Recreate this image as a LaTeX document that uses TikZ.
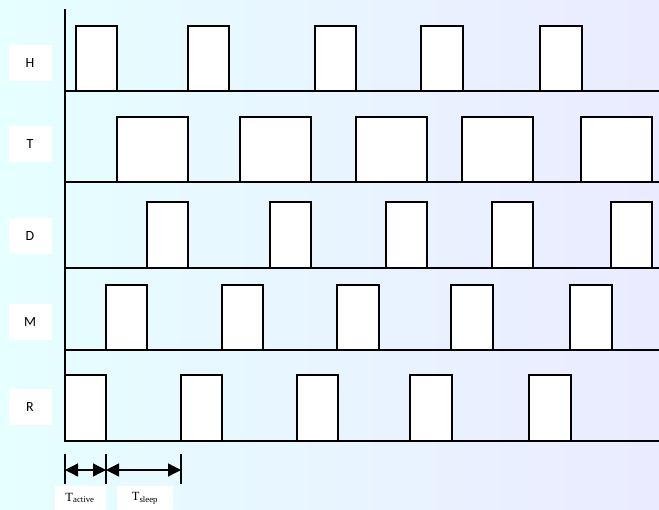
\documentclass[tikz,border=0pt]{standalone}
\usepackage{fontspec}
\newfontfamily\lanefont{Carlito}
\newfontfamily\spanfont{Liberation Serif}
\usepackage{tikz}
\usetikzlibrary{arrows.meta}

\begin{document}
\begin{tikzpicture}[
  x=1pt, y=-1pt,
  every node/.style={font=\lanefont\fontsize{14}{16}\selectfont},
  lanebox/.style={fill=white, minimum width=43pt, minimum height=36pt, inner sep=0pt},
  spanbox/.style={fill=white, minimum height=24pt, inner sep=0pt,
                  font=\spanfont\fontsize{12.5}{14}\selectfont},
  pulse/.style={draw=black, fill=white, line width=1.3pt},
  axisline/.style={draw=black, line width=1.5pt},
  tick/.style={draw=black, line width=1.3pt},
  span/.style={{Triangle[length=13pt,width=13pt]}-{Triangle[length=13pt,width=13pt]},
               line width=1.3pt},
]

% faint page tint
\shade[left color=cyan!10, middle color=white, right color=blue!8]
  (0,0) rectangle (659,509);
\useasboundingbox (0,0) rectangle (659,509);

\node[lanebox] (laneH) at (30,63)  {H};
\node[lanebox] (laneT) at (30,144) {T};
\node[lanebox] (laneD) at (30,236) {D};
\node[lanebox] (laneM) at (30,322) {M};
\node[lanebox] (laneR) at (30,407) {R};

% active slots of each node
\draw[pulse] (76,91) rectangle (117,26)  (188,91) rectangle (229,26)
  (315,91) rectangle (356,26)  (421,91) rectangle (463,26)  (540,91) rectangle (582,26);
\draw[pulse] (117,182) rectangle (188,117)  (240,182) rectangle (311,117)
  (356,182) rectangle (427,117)  (462,182) rectangle (533,117)  (581,182) rectangle (652,117);
\draw[pulse] (147,268) rectangle (188,202)  (270,268) rectangle (311,202)
  (386,268) rectangle (427,202)  (492,268) rectangle (533,202)  (611,268) rectangle (652,202);
\draw[pulse] (106,350) rectangle (147,285)  (222,350) rectangle (263,285)
  (337,350) rectangle (379,285)  (451,350) rectangle (493,285)  (570,350) rectangle (612,285);
\draw[pulse] (65,441) rectangle (106,375)  (181,441) rectangle (222,375)
  (297,441) rectangle (338,375)  (410,441) rectangle (452,375)  (529,441) rectangle (571,375);

\draw[axisline] (65,91) -- (659,91)  (65,182) -- (659,182)  (65,268) -- (659,268)
  (65,350) -- (659,350)  (65,441) -- (659,441);
\draw[axisline] (65,9) -- (65,441);

% period markers
\coordinate (t0) at (65,470);
\coordinate (t1) at (106,470);
\coordinate (t2) at (181,470);
\draw[tick] (65,454) -- (65,484)  (106,454) -- (106,484)  (181,454) -- (181,484);
\draw[span] (t0) -- (t1);
\draw[span] (t1) -- (t2);

\node[spanbox, minimum width=51pt] (active) at (80,498) {T\textsubscript{active}};
\node[spanbox, minimum width=56pt] (sleep)  at (145,498) {T\textsubscript{sleep}};

\end{tikzpicture}
\end{document}
